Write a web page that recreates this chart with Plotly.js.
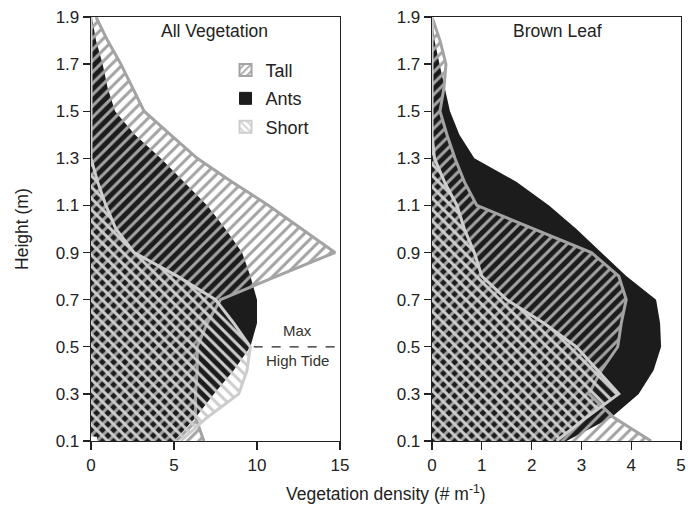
<!DOCTYPE html>
<html>
<head>
<meta charset="utf-8">
<script src="https://cdn.plot.ly/plotly-3.0.1.min.js"></script>
<style>html,body{margin:0;padding:0;background:#fff;}#chart{width:692px;height:509px;}</style>
</head>
<body>
<div id="chart"></div>
<script>
// Heights (m)
const heights = [1.9,1.8,1.7,1.6,1.5,1.4,1.3,1.2,1.1,1.0,0.9,0.8,0.7,0.6,0.5,0.4,0.3,0.2,0.1];

// All Vegetation (left panel), vegetation density (# m^-1)
const allTall  = [0.3,1.0,1.8,2.5,3.2,4.8,6.4,8.5,10.7,12.7,14.7,11.2,7.8,7.0,6.4,6.4,6.3,6.3,6.8];
const allAnts  = [0.05,0.3,0.7,1.0,1.45,2.65,4.2,5.6,7.0,8.1,9.1,9.6,10.0,10.0,9.6,8.6,7.4,6.3,5.0];
const allShort = [0,0,0,0,0,0,0,0.4,0.9,1.5,2.6,5.2,7.5,8.6,9.6,9.4,8.9,7.0,5.4];

// Brown Leaf (right panel)
const brownTall  = [0,0.16,0.28,0.24,0.16,0.3,0.46,0.65,0.9,2.05,3.2,3.75,3.9,3.8,3.73,3.4,3.15,3.65,4.4];
const brownAnts  = [0,0.05,0.15,0.25,0.36,0.55,0.85,1.7,2.35,2.9,3.4,3.9,4.5,4.58,4.6,4.45,4.15,3.6,2.7];
const brownShort = [0,0,0,0,0,0,0.05,0.25,0.5,0.65,0.85,1.0,1.5,2.25,2.9,3.33,3.75,3.1,2.5];

const seriesNames = ['Tall','Ants','Short'];
const yTickVals = [0.1,0.3,0.5,0.7,0.9,1.1,1.3,1.5,1.7,1.9];
const yTickText = ['0.1','0.3','0.5','0.7','0.9','1.1','1.3','1.5','1.7','1.9'];
const xTicksLeft = [0,5,10,15];
const xTicksRight = [0,1,2,3,4,5];
const tideLevel = 0.5;

const TALL_C = '#a3a3a3';
const SHORT_C = '#cdcdcd';
const ANTS_C = '#1c1c1c';
const FONT = 'Liberation Sans, Arial, sans-serif';

function antsTrace(x, xa, ya) {
  return {x: x, y: heights, xaxis: xa, yaxis: ya, type: 'scatter', mode: 'lines',
    line: {width: 0, color: ANTS_C}, fill: 'tozerox', fillcolor: ANTS_C,
    showlegend: false, hoverinfo: 'skip'};
}
function hatchTrace(x, xa, ya, shape, color) {
  return {x: x, y: heights, xaxis: xa, yaxis: ya, type: 'scatter', mode: 'lines',
    line: {width: 3, color: color}, fill: 'tozerox',
    fillpattern: {shape: shape, fgcolor: color, bgcolor: 'rgba(0,0,0,0)', size: 8, solidity: 0.38},
    showlegend: false, hoverinfo: 'skip'};
}
// legend-only entries: zero-height bars on a hidden axis pair
function legendBar(name, group, marker) {
  return {type: 'bar', x: [0], y: [0], xaxis: 'x3', yaxis: 'y3', name: name, legendgroup: group,
          marker: marker, hoverinfo: 'skip'};
}

const data = [
  antsTrace(allAnts, 'x', 'y'),
  hatchTrace(allTall, 'x', 'y', '/', TALL_C),
  hatchTrace(allShort, 'x', 'y', '\\', SHORT_C),
  antsTrace(brownAnts, 'x2', 'y2'),
  hatchTrace(brownTall, 'x2', 'y2', '/', TALL_C),
  hatchTrace(brownShort, 'x2', 'y2', '\\', SHORT_C),
  legendBar(seriesNames[0], 'a', {color: 'white', line: {color: TALL_C, width: 2},
            pattern: {shape: '/', fgcolor: TALL_C, bgcolor: 'white', size: 6, solidity: 0.35}}),
  legendBar(seriesNames[1], 'b', {color: ANTS_C, line: {color: ANTS_C, width: 1}}),
  legendBar(seriesNames[2], 'c', {color: 'white', line: {color: SHORT_C, width: 2},
            pattern: {shape: '\\', fgcolor: SHORT_C, bgcolor: 'white', size: 6, solidity: 0.35}})
];

const tickFont = {family: FONT, size: 17, color: '#222'};
function xAxis(domain, ticks, range, anchor) {
  return {domain: domain, range: range, anchor: anchor, tickvals: ticks, ticktext: ticks.map(String),
    ticks: 'outside', ticklen: 8, tickwidth: 1.3, tickcolor: '#222', showline: true, linecolor: '#222',
    linewidth: 1.3, mirror: true, showgrid: false, zeroline: false, tickfont: tickFont};
}
function yAxis(anchor) {
  return {domain: [0, 1], range: [0.1, 1.9], anchor: anchor, tickvals: yTickVals, ticktext: yTickText,
    ticks: 'outside', ticklen: 7, tickwidth: 1.3, tickcolor: '#222', showline: true, linecolor: '#222',
    linewidth: 1.3, mirror: true, showgrid: false, zeroline: false, tickfont: tickFont};
}

const annFont = {family: FONT, size: 17.5, color: '#222'};
const smallFont = {family: FONT, size: 15, color: '#333'};
const layout = {
  width: 692, height: 509,
  margin: {l: 91, r: 11, t: 17, b: 68},
  paper_bgcolor: 'white', plot_bgcolor: 'white',
  showlegend: true,
  legend: {x: 0.228, y: 0.918, xanchor: 'left', yanchor: 'top', bgcolor: 'rgba(0,0,0,0)',
           font: {family: FONT, size: 18, color: '#222'},
           traceorder: 'grouped', tracegroupgap: 2, itemwidth: 30},
  xaxis: xAxis([0, 0.422], xTicksLeft, [0, 15], 'y'),
  yaxis: yAxis('x'),
  xaxis2: xAxis([0.578, 1], xTicksRight, [0, 5], 'y2'),
  yaxis2: yAxis('x2'),
  xaxis3: {domain: [0, 0.01], anchor: 'y3', visible: false, range: [5, 6], fixedrange: true},
  yaxis3: {domain: [0, 0.01], anchor: 'x3', visible: false, range: [5, 6], fixedrange: true},
  shapes: [
    {type: 'line', xref: 'x', yref: 'y', x0: 9.8, x1: 15, y0: tideLevel, y1: tideLevel,
     line: {color: '#222', width: 1.2, dash: 'dash'}}
  ],
  annotations: [
    {text: 'All Vegetation', xref: 'x', yref: 'paper', x: 7.47, y: 0.967, showarrow: false,
     xanchor: 'center', yanchor: 'middle', font: annFont},
    {text: 'Brown Leaf', xref: 'x2', yref: 'paper', x: 2.51, y: 0.967, showarrow: false,
     xanchor: 'center', yanchor: 'middle', font: annFont},
    {text: 'Max', xref: 'x', yref: 'y', x: 12.45, y: 0.568, showarrow: false,
     xanchor: 'center', yanchor: 'middle', font: smallFont},
    {text: 'High Tide', xref: 'x', yref: 'y', x: 12.45, y: 0.44, showarrow: false,
     xanchor: 'center', yanchor: 'middle', font: smallFont},
    {text: 'Height (m)', xref: 'paper', yref: 'paper', x: -0.117, y: 0.5, showarrow: false,
     textangle: -90, xanchor: 'center', yanchor: 'middle', font: annFont},
    {text: 'Vegetation density (# m<sup>-1</sup>)', xref: 'paper', yref: 'paper', x: 0.5, y: -0.123,
     showarrow: false, xanchor: 'center', yanchor: 'middle', font: annFont}
  ]
};

Plotly.newPlot('chart', data, layout, {displayModeBar: false, staticPlot: true});
</script>
</body>
</html>
